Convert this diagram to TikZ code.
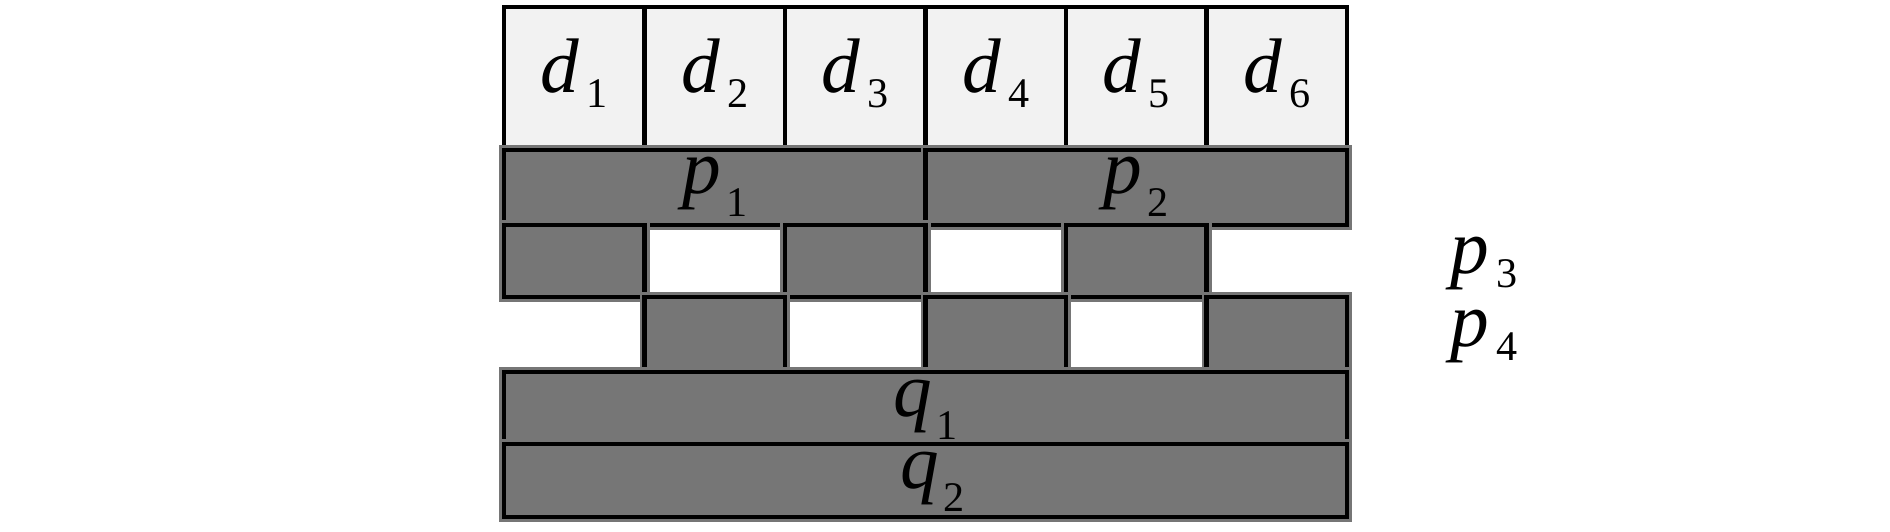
\documentclass[tikz,border=0pt]{standalone}
\usepackage{fontspec}
\setmainfont{Liberation Serif}
\definecolor{boxgray}{RGB}{118,118,118}
\definecolor{cellfill}{RGB}{242,242,242}
\newcommand\dlab[2]{\textit{#1}\hspace{4pt}\raisebox{-8.5pt}{\fontsize{24}{24}\selectfont #2}}
\newcommand\plab[2]{\textit{#1}\hspace{3pt}\raisebox{-13pt}{\fontsize{24}{24}\selectfont #2}}
\newcommand\cellnode[7]{\node[#6, minimum width={(#4-#2)*0.02cm}, minimum height={(#5-#3)*0.02cm}] (#1) at ({(#2+#4)/2},{(#3+#5)/2}) {#7};}
\tikzset{
  px/.style={x=0.02cm,y=-0.02cm},
  boxbase/.style={inner sep=0pt, outer sep=0pt, line width=2.3pt, draw=black, font=\fontsize{44}{48}\selectfont},
  dcell/.style={boxbase, fill=cellfill, text height=16.5pt, text depth=0pt},
  gbox/.style={boxbase, fill=boxgray, preaction={draw=boxgray, line width=5.7pt}},
  prow/.style={gbox, text height=6.8pt, text depth=0pt},
  qrow/.style={gbox, text height=9.3pt, text depth=0pt},
  sidelab/.style={inner sep=0pt, anchor=base, font=\fontsize{44}{48}\selectfont}
}
\begin{document}
\begin{tikzpicture}[px]
\useasboundingbox (0,0) rectangle (1890,531);
% data cells
\cellnode{d1}{504}{7}{644.5}{150}{dcell}{\dlab{d}{1}}
\cellnode{d2}{644.5}{7}{785}{150}{dcell}{\dlab{d}{2}}
\cellnode{d3}{785}{7}{925.5}{150}{dcell}{\dlab{d}{3}}
\cellnode{d4}{925.5}{7}{1066}{150}{dcell}{\dlab{d}{4}}
\cellnode{d5}{1066}{7}{1206.5}{150}{dcell}{\dlab{d}{5}}
\cellnode{d6}{1206.5}{7}{1347}{150}{dcell}{\dlab{d}{6}}
% p1, p2
\cellnode{p1}{504}{150}{925.5}{225}{prow}{\plab{p}{1}}
\cellnode{p2}{925.5}{150}{1347}{225}{prow}{\plab{p}{2}}
% p3 blocks
\cellnode{p3a}{504}{225}{644.5}{297}{gbox}{}
\cellnode{p3b}{785}{225}{925.5}{297}{gbox}{}
\cellnode{p3c}{1066}{225}{1206.5}{297}{gbox}{}
% p4 blocks
\cellnode{p4a}{644.5}{297}{785}{372}{gbox}{}
\cellnode{p4b}{925.5}{297}{1066}{372}{gbox}{}
\cellnode{p4c}{1206.5}{297}{1347}{372}{gbox}{}
% q1, q2
\cellnode{q1}{504}{372}{1347}{444}{qrow}{\plab{q}{1}}
\cellnode{q2}{504}{444}{1347}{517}{qrow}{\hspace{8pt}\plab{q}{2}}
% side labels
\node[sidelab] (p3lab) at (1484,273) {\dlab{p}{3}};
\node[sidelab] (p4lab) at (1484,346) {\dlab{p}{4}};
\end{tikzpicture}
\end{document}
